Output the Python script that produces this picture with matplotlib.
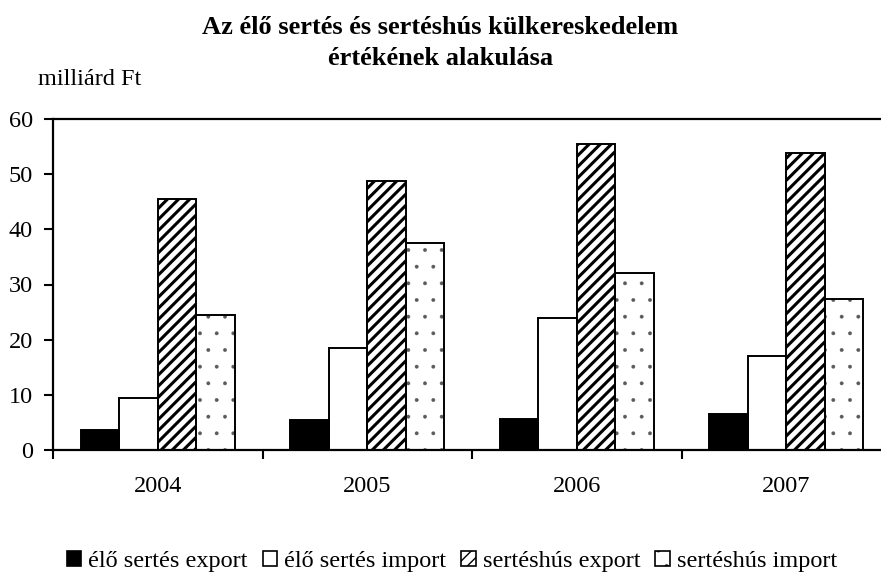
import matplotlib.pyplot as plt
import numpy as np
from matplotlib.patches import Patch

plt.rcParams["font.family"] = ["Liberation Serif", "DejaVu Serif"]
plt.rcParams["hatch.color"] = "black"

years = ["2004", "2005", "2006", "2007"]
series_names = [
    "élő sertés export",
    "élő sertés import",
    "sertéshús export",
    "sertéshús import",
]
elo_export = [3.6, 5.4, 5.6, 6.6]
elo_import = [9.5, 18.5, 24.0, 17.0]
hus_export = [45.5, 48.8, 55.4, 53.8]
hus_import = [24.4, 37.5, 32.1, 27.3]

fig = plt.figure(figsize=(8.81, 5.76), dpi=100)
ax = fig.add_axes([53 / 881, 126 / 576, 838 / 881, 331 / 576])

x = np.arange(len(years))
width = 0.184
# fill, hatch, hatch colour, hatch line width
styles = [
    ("black", None, "black", 1.0),
    ("white", None, "black", 1.0),
    ("white", "///", "black", 2.2),
    ("white", ".", "0.35", 0.3),
]
values = [elo_export, elo_import, hus_export, hus_import]

handles = []
for i, (vals, name, st) in enumerate(zip(values, series_names, styles)):
    fill, hatch, hcolor, hlw = st
    offset = (i - 1.5) * width
    with plt.rc_context({"hatch.linewidth": hlw}):
        # hatch layer (edge colour drives the hatch colour)
        ax.bar(x + offset, vals, width, facecolor=fill, edgecolor=hcolor,
               linewidth=0, hatch=hatch, zorder=3)
        handles.append(Patch(facecolor=fill, edgecolor="black", linewidth=1.2,
                             hatch=hatch, label=name))
    # black outline on top
    ax.bar(x + offset, vals, width, facecolor="none", edgecolor="black",
           linewidth=1.4, zorder=4)

ax.set_xlim(-0.5, 3.5)
ax.set_ylim(0, 60)
ax.set_yticks(range(0, 61, 10))
ax.set_xticks([-0.5, 0.5, 1.5, 2.5])
ax.set_xticklabels([])
ax.set_xticks(x, minor=True)
ax.set_xticklabels(years, minor=True)
ax.tick_params(axis="x", which="minor", length=0, pad=19, labelsize=17.5)
ax.tick_params(axis="x", which="major", length=6.5, width=1.5, direction="out")
ax.tick_params(axis="y", length=6.5, width=1.5, pad=8, labelsize=17.5)

for side in ["left", "bottom", "top"]:
    ax.spines[side].set_linewidth(1.6)
    ax.spines[side].set_zorder(5)
ax.spines["right"].set_visible(False)

fig.text(0.5, 0.972, "Az élő sertés és sertéshús külkereskedelem\nértékének alakulása",
         ha="center", va="top", fontsize=19, fontweight="bold", linespacing=1.45)
fig.text(0.043, 0.862, "milliárd Ft", ha="left", va="center", fontsize=17.5)

fig.legend(handles=handles, loc="center", bbox_to_anchor=(0.513, 0.025), ncol=4,
           frameon=False, fontsize=17.5, handlelength=0.6, handleheight=0.6,
           handletextpad=0.3, columnspacing=0.6, borderpad=0)

plt.savefig("out.png", dpi=100)
plt.close()
